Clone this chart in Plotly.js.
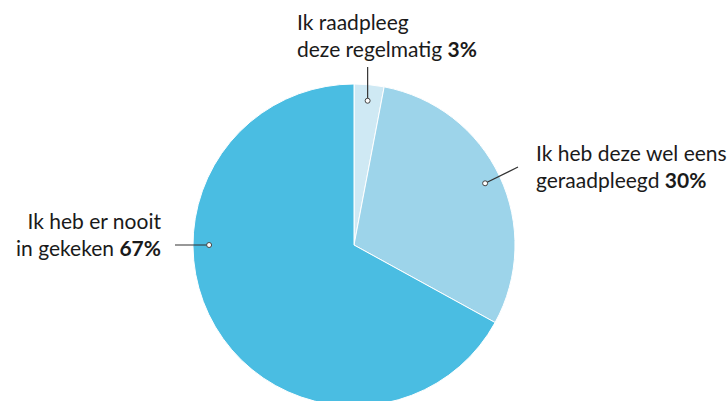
<!DOCTYPE html>
<html>
<head>
<meta charset="utf-8">
<script src="https://cdn.plot.ly/plotly-3.0.1.min.js"></script>
<style>
html,body{margin:0;padding:0;overflow:hidden;background:#fff;}
#chart{width:727px;height:420px;}
</style>
</head>
<body>
<div id="chart"></div>
<script>
// Data
const categories = ["Ik raadpleeg deze regelmatig", "Ik heb deze wel eens geraadpleegd", "Ik heb er nooit in gekeken"];
const labelLines = [["Ik raadpleeg", "deze regelmatig"], ["Ik heb deze wel eens", "geraadpleegd"], ["Ik heb er nooit", "in gekeken"]];
const values = [3, 30, 67];
const colors = ["#cfe9f4", "#9dd4ea", "#4abde2"];

// Layout geometry (pixels)
const W = 727, H = 420;
const cx = 354, cy = 245, R = 161;
const px = x => x / W;
const py = y => 1 - y / H;

const total = values.reduce((a, b) => a + b, 0);
let cum = 0;
const midAngles = values.map(v => { const m = (cum + v / 2) / total * 360; cum += v; return m; });
// third label's dot sits horizontally to the left
const dotAngles = [midAngles[0], midAngles[1], 270];
const dotR = 0.9 * R;
const dots = dotAngles.map(a => {
  const r = a * Math.PI / 180;
  return [cx + dotR * Math.sin(r), cy - dotR * Math.cos(r)];
});
const lineEnds = [[dots[0][0], 67], [518, 167], [175, dots[2][1]]];
const textPos = [
  {x: 296, y: 35, xanchor: "left", align: "left"},
  {x: 535, y: 166, xanchor: "left", align: "left"},
  {x: 162, y: 234, xanchor: "right", align: "right"}
];
const FONT = {family: "Lato, sans-serif", size: 21, color: "#1a1a1a"};

const trace = {
  type: "pie",
  labels: categories,
  values: values,
  sort: false,
  direction: "clockwise",
  rotation: 0,
  marker: {colors: colors, line: {color: "#ffffff", width: 1}},
  textinfo: "none",
  hoverinfo: "label+percent",
  showlegend: false,
  domain: {x: [px(cx - R), px(cx + R)], y: [py(cy + R), py(cy - R)]}
};

const shapes = [];
const annotations = [];
values.forEach((v, i) => {
  shapes.push({type: "line", xref: "paper", yref: "paper",
    x0: px(dots[i][0]), y0: py(dots[i][1]), x1: px(lineEnds[i][0]), y1: py(lineEnds[i][1]),
    line: {color: "#333333", width: 1.2}});
  shapes.push({type: "circle", xref: "paper", yref: "paper", xsizemode: "pixel", ysizemode: "pixel",
    xanchor: px(dots[i][0]), yanchor: py(dots[i][1]), x0: -2.5, x1: 2.5, y0: -2.5, y1: 2.5,
    fillcolor: "#ffffff", line: {color: "#444444", width: 1}});
  const pct = Math.round(v / total * 100);
  const t = textPos[i];
  annotations.push({xref: "paper", yref: "paper", x: px(t.x), y: py(t.y),
    xanchor: t.xanchor, yanchor: "middle", align: t.align, showarrow: false,
    borderpad: 0,
    text: labelLines[i][0] + "<br>" + labelLines[i][1] + " <b>" + pct + "%</b>",
    font: FONT});
});

const layout = {
  width: W, height: H,
  margin: {l: 0, r: 0, t: 0, b: 0},
  paper_bgcolor: "#ffffff",
  shapes: shapes,
  annotations: annotations
};

Plotly.newPlot("chart", [trace], layout, {displayModeBar: false, staticPlot: true});
</script>
</body>
</html>
